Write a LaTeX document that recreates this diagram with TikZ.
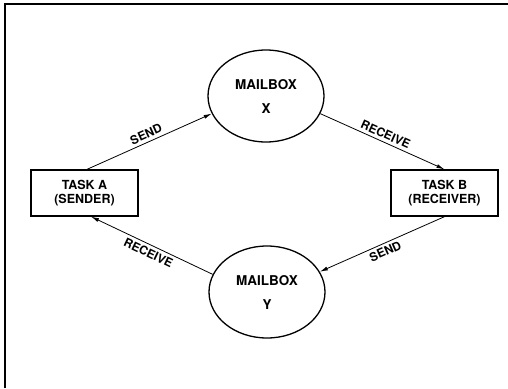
\documentclass[tikz,border=0pt]{standalone}
\usepackage{fontspec}
\setmainfont{TeX Gyre Heros}
\usetikzlibrary{shapes.geometric,arrows.meta}
\begin{document}
\begin{tikzpicture}[x=1pt,y=-1pt,
  mailbox/.style={draw,ellipse,line width=1.3pt,minimum width=116pt,minimum height=92pt,inner sep=0pt,align=center,font=\fontsize{13.5}{18}\selectfont\bfseries},
  taskbox/.style={draw,rectangle,line width=1.3pt,minimum width=107pt,minimum height=46pt,inner sep=0pt,align=center,font=\fontsize{12.5}{13.5}\selectfont\bfseries},
  flow/.style={line width=0.8pt,-{Latex[length=8pt,width=4pt]}},
  lbl/.style={font=\fontsize{12}{13}\selectfont\bfseries,sloped,inner sep=3pt}]
\useasboundingbox (0,0) rectangle (508,388);
\draw[line width=1.5pt] (5,388) -- (5,4) -- (508,4);
\node[mailbox] (X) at (266,96) {MAILBOX\\[6pt]X};
\node[mailbox] (Y) at (267,292) {MAILBOX\\[6pt]Y};
\node[taskbox] (A) at (84.5,193) {TASK A\\(SENDER)};
\node[taskbox] (B) at (444.5,193) {TASK B\\(RECEIVER)};
\draw[flow] ([xshift=2.5pt]A.north) -- node[lbl,midway,above] {SEND} (X.198);
\draw[flow] (X.-18) -- node[lbl,midway,above] {RECEIVE} (B.north);
\draw[flow] (B.south) -- node[lbl,midway,below] {SEND} (Y.21);
\draw[flow] (Y.162) -- node[lbl,midway,below] {RECEIVE} ([xshift=6.5pt]A.south);
\end{tikzpicture}
\end{document}
